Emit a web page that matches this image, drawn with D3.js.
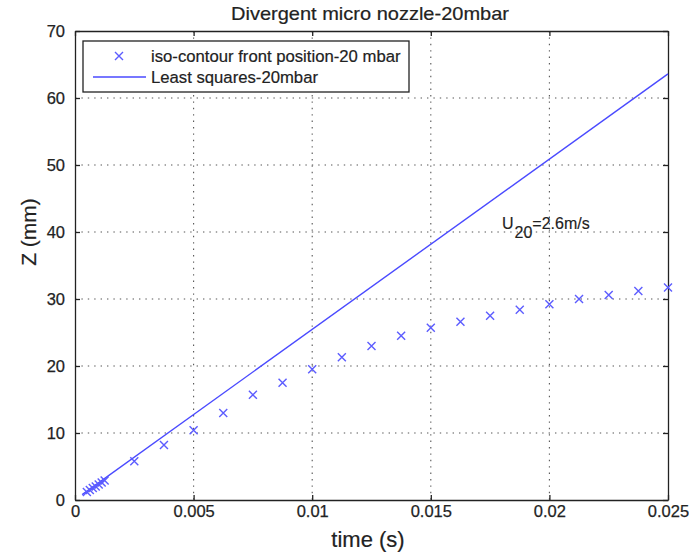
<!DOCTYPE html>
<html><head><meta charset="utf-8">
<script src="https://cdn.jsdelivr.net/npm/d3@7"></script>
<style>body{margin:0;background:#fff}svg{display:block}text{font-family:"Liberation Sans",Arial,sans-serif;fill:#222}</style>
</head><body>
<svg id="c" width="689" height="556"></svg>
<script>
const title = "Divergent micro nozzle-20mbar";
const xLabel = "time (s)";
const yLabel = "Z (mm)";
const xTicks = [0, 0.005, 0.01, 0.015, 0.02, 0.025];
const xTickLabels = ["0", "0.005", "0.01", "0.015", "0.02", "0.025"];
const yTicks = [0, 10, 20, 30, 40, 50, 60, 70];
const pointTime = [0.0005, 0.000625, 0.00075, 0.000875, 0.001, 0.001125, 0.00125,
  0.0025, 0.00375, 0.005, 0.00625, 0.0075, 0.00875, 0.01, 0.01125, 0.0125, 0.01375,
  0.015, 0.01625, 0.0175, 0.01875, 0.02, 0.02125, 0.0225, 0.02375, 0.025];
const pointZ = [1.2, 1.5, 1.8, 2.0, 2.3, 2.6, 2.9,
  5.8, 8.2, 10.4, 13.0, 15.7, 17.5, 19.5, 21.3, 23.0, 24.5,
  25.7, 26.6, 27.5, 28.4, 29.2, 30.0, 30.6, 31.2, 31.7];
const fitTime = [0.0003, 0.025];
const fitZ = [0.8, 63.6];
const legendLabels = ["iso-contour front position-20 mbar", "Least squares-20mbar"];

const svg = d3.select("#c");
const L = 75, R = 668, T = 31, B = 500;
const x = d3.scaleLinear().domain([0, 0.025]).range([L, R]);
const y = d3.scaleLinear().domain([0, 70]).range([B, T]);
const blue = "#4a4aff";
const mcol = "#5c5cff";
const font = "Liberation Sans, Arial, sans-serif";

// grid
const g = svg.append("g");
g.selectAll(".gx").data(xTicks.slice(1, -1)).join("line")
  .attr("x1", d => x(d)).attr("x2", d => x(d)).attr("y1", T).attr("y2", B)
  .attr("stroke", "#555").attr("stroke-width", 1.1).attr("stroke-dasharray", "1.4,5");
g.selectAll(".gy").data(yTicks.slice(1, -1)).join("line")
  .attr("y1", d => y(d)).attr("y2", d => y(d)).attr("x1", L).attr("x2", R)
  .attr("stroke", "#555").attr("stroke-width", 1.1).attr("stroke-dasharray", "1.4,5");

// axes
const axB = svg.append("g").attr("transform", `translate(0,${B})`)
  .call(d3.axisBottom(x).tickValues(xTicks).tickFormat((d, i) => xTickLabels[i]).tickSizeInner(-5).tickSizeOuter(0).tickPadding(5));
const axT = svg.append("g").attr("transform", `translate(0,${T})`)
  .call(d3.axisTop(x).tickValues(xTicks).tickFormat("").tickSizeInner(-5).tickSizeOuter(0));
const axL = svg.append("g").attr("transform", `translate(${L},0)`)
  .call(d3.axisLeft(y).tickValues(yTicks).tickSizeInner(-5).tickSizeOuter(0).tickPadding(10));
const axR = svg.append("g").attr("transform", `translate(${R},0)`)
  .call(d3.axisRight(y).tickValues(yTicks).tickFormat("").tickSizeInner(-5).tickSizeOuter(0));
[axB, axT, axL, axR].forEach(a => {
  a.selectAll("path,line").attr("stroke", "#222").attr("stroke-width", 1.3);
  a.selectAll("text").attr("font-size", 16.5).attr("fill", "#2a2a2a")
    .attr("stroke", "#2a2a2a").attr("stroke-width", 0.25).style("font-family", font);
});

// fit line
svg.append("path").datum(fitTime.map((t, i) => [t, fitZ[i]]))
  .attr("d", d3.line().x(d => x(d[0])).y(d => y(d[1])))
  .attr("fill", "none").attr("stroke", blue).attr("stroke-width", 1.4);

// markers
const s = 4;
const cross = (cx, cy) => `M${cx - s},${cy - s}L${cx + s},${cy + s}M${cx - s},${cy + s}L${cx + s},${cy - s}`;
svg.append("g").selectAll("path").data(pointTime.map((t, i) => [t, pointZ[i]])).join("path")
  .attr("d", d => cross(x(d[0]), y(d[1])))
  .attr("stroke", mcol).attr("stroke-width", 1.4).attr("fill", "none");

// legend
const lg = svg.append("g");
lg.append("rect").attr("x", 83).attr("y", 41).attr("width", 326).attr("height", 51)
  .attr("fill", "#fff").attr("stroke", "#222").attr("stroke-width", 1.3);
lg.append("path").attr("d", cross(119, 56)).attr("stroke", mcol).attr("stroke-width", 1.4);
lg.append("line").attr("x1", 93).attr("x2", 146).attr("y1", 77).attr("y2", 77)
  .attr("stroke", blue).attr("stroke-width", 1.4);
lg.selectAll("text").data(legendLabels).join("text")
  .attr("x", 151).attr("y", (d, i) => 62 + i * 21).attr("font-size", 16.7)
  .attr("stroke", "#222").attr("stroke-width", 0.2).text(d => d);

// title & labels
svg.append("text").attr("x", 370).attr("y", 20).attr("text-anchor", "middle").attr("font-size", 18.5)
  .attr("textLength", 278).attr("lengthAdjust", "spacingAndGlyphs")
  .attr("stroke", "#222").attr("stroke-width", 0.2).text(title);
svg.append("text").attr("x", 368).attr("y", 547).attr("text-anchor", "middle").attr("font-size", 22)
  .attr("stroke", "#222").attr("stroke-width", 0.2).text(xLabel);
svg.append("text").attr("transform", `translate(36,232) rotate(-90)`).attr("text-anchor", "middle")
  .attr("font-size", 21).attr("stroke", "#222").attr("stroke-width", 0.2).text(yLabel);

// annotation
const ann = svg.append("text").attr("x", 502).attr("y", 229).attr("font-size", 16)
  .attr("stroke", "#222").attr("stroke-width", 0.15);
ann.append("tspan").text("U");
ann.append("tspan").attr("dy", 9).attr("dx", 1).text("20");
ann.append("tspan").attr("dy", -9).text("=2.6m/s");
</script>
</body></html>
